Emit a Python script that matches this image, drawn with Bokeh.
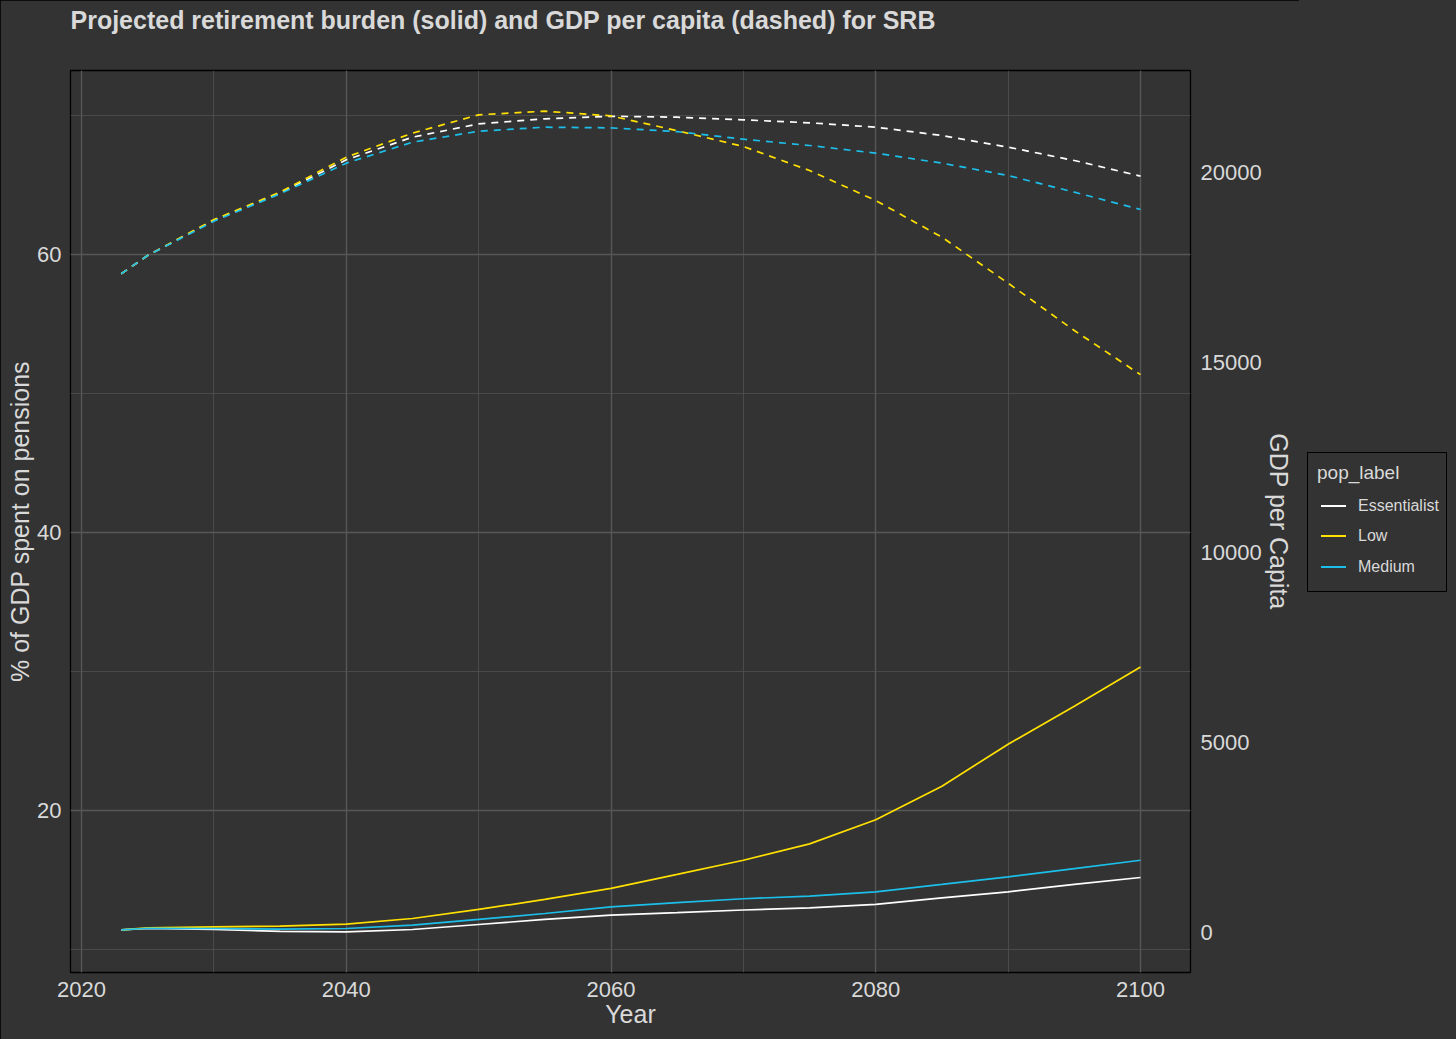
from bokeh.plotting import figure
from bokeh.layouts import row
from bokeh.models import (Range1d, LinearAxis, SingleIntervalTicker, FixedTicker,
                          Title, Div)
from bokeh.embed import file_html
from bokeh.resources import INLINE

# ---------------- data ----------------
years = [2023, 2025, 2030, 2035, 2040, 2045, 2050, 2055, 2060,
         2065, 2070, 2075, 2080, 2085, 2090, 2095, 2100]

pension_essentialist = [11.41, 11.51, 11.44, 11.30, 11.27, 11.44, 11.80, 12.16, 12.47,
                        12.65, 12.84, 13.00, 13.25, 13.72, 14.15, 14.68, 15.18]
pension_low = [11.41, 11.56, 11.63, 11.68, 11.82, 12.23, 12.88, 13.60, 14.40,
               15.40, 16.42, 17.60, 19.33, 21.75, 24.77, 27.50, 30.33]
pension_medium = [11.41, 11.53, 11.51, 11.46, 11.51, 11.75, 12.16, 12.59, 13.07,
                  13.37, 13.65, 13.84, 14.15, 14.68, 15.23, 15.82, 16.42]

gdp_essentialist = [17334, 17816, 18740, 19460, 20334, 20930, 21280, 21412, 21480,
                    21456, 21386, 21307, 21193, 20974, 20667, 20316, 19905]
gdp_low = [17334, 17816, 18760, 19482, 20403, 21035, 21518, 21614, 21490,
           21100, 20684, 20053, 19263, 18298, 17088, 15842, 14680]
gdp_medium = [17334, 17816, 18720, 19439, 20246, 20798, 21087, 21192, 21175,
              21075, 20877, 20710, 20509, 20246, 19921, 19482, 19026]

series_labels = ["Essentialist", "Low", "Medium"]
series_colors = ["#ffffff", "#ffe000", "#1cbfea"]

pension_ticks_interval = 20
gdp_ticks = [0, 5000, 10000, 15000, 20000]

title_text = "Projected retirement burden (solid) and GDP per capita (dashed) for SRB"
legend_title = "pop_label"

# ---------------- main figure ----------------
BG = "#333333"
TXT = "#d9d9d9"
FONT = "Liberation Sans"

p = figure(frame_width=1120, frame_height=902, title=None,
           x_range=Range1d(2019.169, 2103.777),
           y_range=Range1d(8.345, 73.237),
           output_backend="svg", toolbar_location=None,
           min_border_left=70, min_border_right=109,
           min_border_top=70, min_border_bottom=67)

p.extra_y_ranges = {"gdp": Range1d(-1052.6, 22684.2)}

p.background_fill_color = BG
p.border_fill_color = BG
p.outline_line_color = "black"
p.outline_line_width = 1.3

# spacer between frame and title, then the title itself
p.add_layout(Title(text=" ", text_font_size="10px", standoff=24), "above")
p.add_layout(Title(text=title_text, text_font=FONT, text_font_size="25px",
                   text_font_style="bold", text_color=TXT, align="left",
                   standoff=0), "above")

p.xaxis[0].ticker = SingleIntervalTicker(interval=20, num_minor_ticks=2)
p.yaxis[0].ticker = SingleIntervalTicker(interval=pension_ticks_interval, num_minor_ticks=2)
p.xaxis.axis_label = "Year"
p.yaxis.axis_label = "% of GDP spent on pensions"

right_axis = LinearAxis(y_range_name="gdp", ticker=FixedTicker(ticks=gdp_ticks),
                        axis_label="GDP per Capita")
p.add_layout(right_axis, "right")

for ax in [p.xaxis[0], p.yaxis[0], right_axis]:
    ax.axis_line_color = None
    ax.major_tick_line_color = None
    ax.minor_tick_line_color = None
    ax.major_tick_out = 0
    ax.major_tick_in = 0
    ax.minor_tick_out = 0
    ax.minor_tick_in = 0
    ax.major_label_text_font = FONT
    ax.major_label_text_font_size = "22px"
    ax.major_label_text_color = TXT
    ax.axis_label_text_font = FONT
    ax.axis_label_text_font_size = "25px"
    ax.axis_label_text_font_style = "normal"
    ax.axis_label_text_color = TXT

p.xaxis[0].major_label_standoff = 9
p.xaxis[0].axis_label_standoff = 0
p.yaxis[0].major_label_standoff = 9
p.yaxis[0].axis_label_standoff = 0
right_axis.major_label_standoff = 10
right_axis.axis_label_standoff = 0

for g in [p.xgrid[0], p.ygrid[0]]:
    g.grid_line_color = "#575757"
    g.grid_line_width = 1.4
    g.minor_grid_line_color = "#505050"
    g.minor_grid_line_width = 0.8

pensions = [pension_essentialist, pension_low, pension_medium]
gdps = [gdp_essentialist, gdp_low, gdp_medium]

for lab, col, pen in zip(series_labels, series_colors, pensions):
    p.line(years, pen, line_color=col, line_width=1.7)
for lab, col, gdp in zip(series_labels, series_colors, gdps):
    p.line(years, gdp, line_color=col, line_width=1.7, line_dash="7 6",
           y_range_name="gdp")

# ---------------- legend (HTML panel to the right of the plot) ----------------
item_html = ""
for i, (lab, col) in enumerate(zip(series_labels, series_colors)):
    top = 45 + 30.3 * i
    item_html += (
        f'<div style="position:absolute;left:13px;top:{top + 7:.1f}px;width:25px;'
        f'height:0;border-top:2px solid {col};"></div>'
        f'<div style="position:absolute;left:50px;top:{top:.1f}px;font-size:16px;'
        f'line-height:16px;color:{TXT};white-space:nowrap;">{lab}</div>'
    )

legend_html = (
    f'<div style="position:relative;width:157px;height:1039px;background:{BG};'
    f'font-family:\'{FONT}\';">'
    f'<div style="position:absolute;left:8px;top:452px;width:140px;height:140px;'
    f'box-sizing:border-box;border:1.6px solid #000;background:{BG};">'
    f'<div style="position:absolute;left:9px;top:10px;font-size:19px;line-height:19px;'
    f'color:{TXT};white-space:nowrap;">{legend_title}</div>'
    f'{item_html}</div></div>'
)

legend_div = Div(text=legend_html, width=157, height=1039, margin=0,
                 styles={"background-color": BG})

layout = row(p, legend_div, spacing=0,
             styles={"outline": "2px solid #000", "outline-offset": "-2px"})

open("out.html", "w").write(file_html(layout, INLINE))
